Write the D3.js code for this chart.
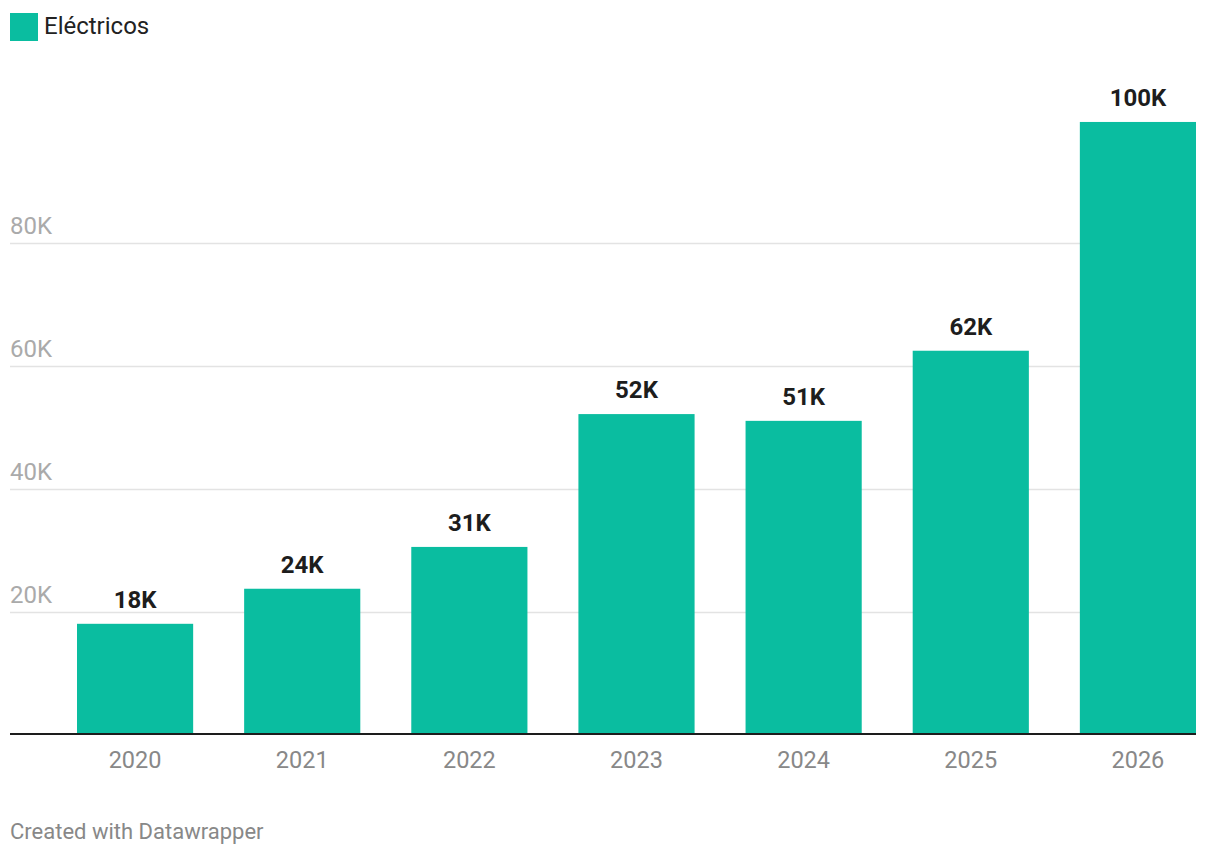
<!DOCTYPE html>
<html><head><meta charset="utf-8">
<script src="https://cdn.jsdelivr.net/npm/d3@7"></script>
<style>body{margin:0;background:#fff;font-family:Roboto,"Noto Sans",sans-serif}</style>
</head><body>
<svg id="c" width="1220" height="858"></svg>
<script>
const categories = ["2020","2021","2022","2023","2024","2025","2026"];
const values = [18, 23.7, 30.5, 52.1, 51, 62.4, 99.6];
const valueLabels = ["18K","24K","31K","52K","51K","62K","100K"];
const yTicks = [20, 40, 60, 80];
const seriesName = "Eléctricos";

const svg = d3.select("#c");
const color = "#0abda0";
const x = d3.scaleBand().domain(categories).range([77, 1196]).paddingInner(0.305).paddingOuter(0);
const y = d3.scaleLinear().domain([0, 100]).range([734.5, 119.5]);

// gridlines
svg.append("g").selectAll("line").data(yTicks).join("line")
  .attr("x1", 10).attr("x2", 1196)
  .attr("y1", d => Math.round(y(d)) + 0.5).attr("y2", d => Math.round(y(d)) + 0.5)
  .attr("stroke", "#e3e3e3").attr("stroke-width", 1.5);
svg.append("g").selectAll("text").data(yTicks).join("text")
  .attr("x", 10).attr("y", d => y(d) - 9)
  .attr("font-size", 24).attr("fill", "#aaaaaa")
  .text(d => d + "K");

// bars
svg.append("g").selectAll("rect").data(values).join("rect")
  .attr("x", (d, i) => x(categories[i]))
  .attr("width", x.bandwidth())
  .attr("y", d => y(d))
  .attr("height", d => y(0) - y(d))
  .attr("fill", color);

// value labels
svg.append("g").selectAll("text").data(values).join("text")
  .attr("x", (d, i) => x(categories[i]) + x.bandwidth() / 2)
  .attr("y", d => y(d) - 16)
  .attr("text-anchor", "middle")
  .attr("font-size", 24).attr("font-weight", "bold").attr("fill", "#1d1d1d")
  .text((d, i) => valueLabels[i]);

// baseline
svg.append("line").attr("x1", 10).attr("x2", 1196).attr("y1", y(0) - 0.5).attr("y2", y(0) - 0.5)
  .attr("stroke", "#1d1d1d").attr("stroke-width", 2);

// x axis labels
svg.append("g").selectAll("text").data(categories).join("text")
  .attr("x", d => x(d) + x.bandwidth() / 2)
  .attr("y", 768)
  .attr("text-anchor", "middle")
  .attr("font-size", 23.5).attr("fill", "#888888")
  .text(d => d);

// legend
svg.append("rect").attr("x", 10).attr("y", 13).attr("width", 28).attr("height", 28).attr("fill", color);
svg.append("text").attr("x", 44).attr("y", 34).attr("font-size", 24).attr("fill", "#222")
  .text(seriesName);

// footer
svg.append("text").attr("x", 10).attr("y", 839).attr("font-size", 22).attr("fill", "#888")
  .text("Created with Datawrapper");
</script>
</body></html>
